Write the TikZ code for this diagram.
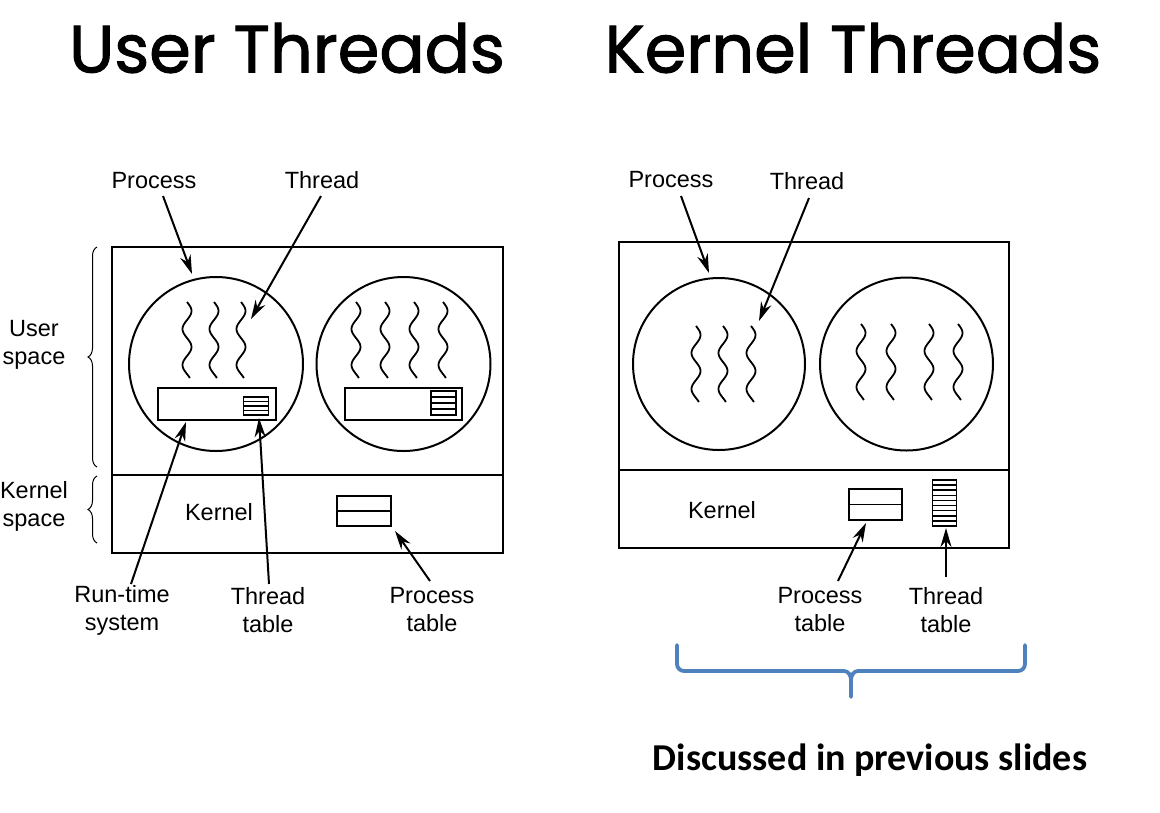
\documentclass[tikz,border=0pt]{standalone}
\usepackage{fontspec}
\setmainfont{Liberation Sans}
\newfontfamily\titlefont[FakeBold=1.5]{Poppins}
\newfontfamily\notefont{Carlito}
\usetikzlibrary{arrows.meta,decorations.pathreplacing}
\definecolor{braceblue}{RGB}{79,129,189}
\begin{document}
\begin{tikzpicture}[x=1pt,y=-1pt,
  frame/.style={draw,line width=2pt},
  lbl/.style={font=\fontsize{23.5}{28}\selectfont,align=center,inner sep=0pt},
  ttl/.style={font=\titlefont\fontsize{67}{74}\selectfont,inner sep=0pt},
  ptr/.style={line width=2pt,-{Stealth[length=19pt,width=11pt]}},
  wave/.style={line width=1.8pt},
  tbl/.style={draw,line width=1.9pt},
  sbrace/.style={decorate,decoration={brace,amplitude=9pt},line width=1pt}]
\useasboundingbox (0,0) rectangle (1160,812);
\fill[white] (0,0) rectangle (1160,812);

% titles
\node[ttl] (t1) at (287,48) {User Threads};
\node[ttl] (t2) at (853,48) {Kernel Threads};

% ===== left diagram =====
\node[frame,minimum width=391pt,minimum height=306pt,inner sep=0pt] (ubox) at (307.5,400) {};
\draw[line width=2pt] (112,475) coordinate (ud1) -- (503,475) coordinate (ud2);
\node[draw,circle,line width=2pt,minimum size=174pt,inner sep=0pt] (uc1) at (216,364) {};
\node[draw,circle,line width=2pt,minimum size=174pt,inner sep=0pt] (uc2) at (403.5,364) {};
\foreach \xx in {187,214,241}
  \draw[wave] plot[domain=0:76,samples=50,smooth] ({\xx+4.5*sin(\x*10)},{302+\x});
\foreach \xx in {356,385,414,443}
  \draw[wave] plot[domain=0:76,samples=50,smooth] ({\xx+4.5*sin(\x*10)},{302+\x});
% runtime boxes
\node[tbl,fill=white,minimum width=118pt,minimum height=32pt,inner sep=0pt] (rt1) at (217,404) {};
\node[tbl,minimum width=25pt,minimum height=18pt,inner sep=0pt] (tt1) at (256,406) {};
\foreach \yy in {401.5,406,410.5} \draw[line width=1.5pt] (243.5,\yy) -- (268.5,\yy);
\node[tbl,fill=white,minimum width=117pt,minimum height=32pt,inner sep=0pt] (rt2) at (403.5,404) {};
\node[tbl,minimum width=25pt,minimum height=24pt,inner sep=0pt] (tt2) at (443.5,403) {};
\foreach \yy in {397,403,409} \draw[line width=1.5pt] (431,\yy) -- (456,\yy);
% kernel
\node[lbl] (uk) at (219,512) {Kernel};
\node[tbl,minimum width=54pt,minimum height=30pt,inner sep=0pt] (upt) at (364,511) {};
\draw[line width=1.9pt] (337,511) -- (391,511);
% side braces
\draw[sbrace] (97,467) -- (97,247);
\draw[sbrace] (97,543) -- (97,476);
\node[lbl] (us) at (34,345) {User\\space};
\node[lbl] (ks) at (34,506) {Kernel\\space};
% labels
\node[lbl] (ulp) at (154,181) {Process};
\node[lbl] (ult) at (322,180) {Thread};
\node[lbl] (ulr) at (122,610) {Run-time\\system};
\node[lbl] (ultt) at (268,610) {Thread\\table};
\node[lbl] (ulpt) at (432,610) {Process\\table};
\coordinate (a1) at (192,274);
\coordinate (a2) at (251,319);
\coordinate (a3) at (186,422);
\coordinate (a4) at (259,418);
\coordinate (a5) at (395,531);
\draw[ptr] (163,196) -- (a1);
\draw[ptr] (321,196) -- (a2);
\draw[ptr] (131,584) -- (a3);
\draw[ptr] (269,584) -- (a4);
\draw[ptr] (430,581) -- (a5);

% ===== right diagram =====
\node[frame,minimum width=390pt,minimum height=306pt,inner sep=0pt] (kbox) at (814,395) {};
\draw[line width=2pt] (619,470) coordinate (kd1) -- (1009,470) coordinate (kd2);
\node[draw,circle,line width=2pt,minimum size=172pt,inner sep=0pt] (kc1) at (719,364) {};
\node[draw,circle,line width=2pt,minimum size=173pt,inner sep=0pt] (kc2) at (906.5,364) {};
\foreach \xx in {696,723,751}
  \draw[wave] plot[domain=0:76,samples=50,smooth] ({\xx+4.5*sin(\x*10)},{326+\x});
\foreach \xx in {861,891,929,958}
  \draw[wave] plot[domain=0:76,samples=50,smooth] ({\xx+4.5*sin(\x*10)},{324+\x});
\node[lbl] (kk) at (722,510) {Kernel};
\node[tbl,minimum width=53pt,minimum height=31pt,inner sep=0pt] (kpt) at (875.5,504.5) {};
\draw[line width=1.9pt] (849,504.5) -- (902,504.5);
\node[tbl,minimum width=24pt,minimum height=46pt,inner sep=0pt] (ktt) at (944.5,503) {};
\foreach \i in {1,...,8} \draw[line width=1.5pt] (932.5,{480+\i*5.11}) -- (956.5,{480+\i*5.11});
\node[lbl] (klp) at (671,180) {Process};
\node[lbl] (klt) at (807,181) {Thread};
\node[lbl] (klpt) at (820,610) {Process\\table};
\node[lbl] (kltt) at (946,610) {Thread\\table};
\coordinate (b1) at (709,273);
\coordinate (b2) at (759,321);
\coordinate (b3) at (866,523);
\coordinate (b4) at (946,528);
\draw[ptr] (681,196) -- (b1);
\draw[ptr] (809,198) -- (b2);
\draw[ptr] (838,581) -- (b3);
\draw[ptr] (946,577) -- (b4);

% blue brace
\coordinate (bl) at (677,645);
\coordinate (br) at (1025,645);
\coordinate (bm) at (851,697);
\draw[braceblue,line width=3.8pt,line cap=round,line join=round]
  (bl) -- (677,664) to[out=-90,in=180] (684,671) -- (844,671) to[out=0,in=90] (851,680) -- (bm);
\draw[braceblue,line width=3.8pt,line cap=round,line join=round]
  (br) -- (1025,664) to[out=-90,in=0] (1018,671) -- (858,671) to[out=180,in=90] (851,680);
\node[font=\notefont\bfseries\fontsize{38}{44}\selectfont,inner sep=0pt] (note) at (870,760) {Discussed in previous slides};
\end{tikzpicture}
\end{document}
